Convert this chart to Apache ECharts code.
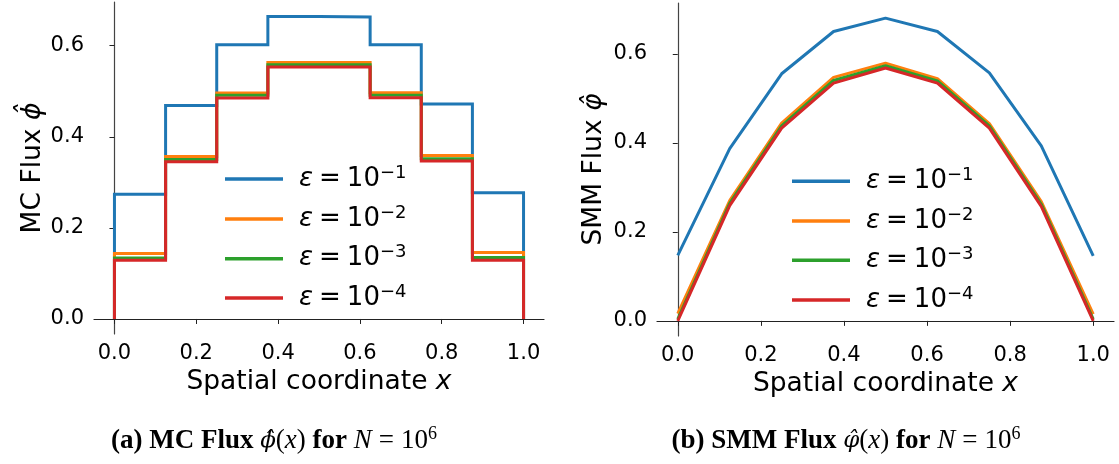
<!DOCTYPE html>
<html>
<head>
<meta charset="utf-8">
<script src="https://cdn.jsdelivr.net/npm/echarts@6/dist/echarts.min.js"></script>
<style>html,body{margin:0;padding:0;background:#fff}#c{width:1119px;height:464px}</style>
</head>
<body>
<div id="c"></div>
<script>
// ---- data ----
const binEdges = [0, 0.125, 0.25, 0.375, 0.5, 0.625, 0.75, 0.875, 1.0];
const mcEps1 = [0.274, 0.469, 0.602, 0.664, 0.663, 0.602, 0.472, 0.277];
const mcEps2 = [0.144, 0.357, 0.496, 0.563, 0.563, 0.497, 0.359, 0.146];
const mcEps3 = [0.134, 0.350, 0.491, 0.558, 0.558, 0.491, 0.352, 0.135];
const mcEps4 = [0.129, 0.345, 0.485, 0.553, 0.553, 0.486, 0.347, 0.129];

const smmX = [0, 0.125, 0.25, 0.375, 0.5, 0.625, 0.75, 0.875, 1.0];
const smmEps1 = [0.147, 0.387, 0.555, 0.650, 0.680, 0.650, 0.557, 0.393, 0.146];
const smmEps2 = [0.016, 0.270, 0.444, 0.547, 0.579, 0.544, 0.443, 0.268, 0.015];
const smmEps3 = [0.004, 0.264, 0.438, 0.540, 0.573, 0.539, 0.438, 0.262, 0.004];
const smmEps4 = [0.000, 0.259, 0.433, 0.534, 0.568, 0.534, 0.433, 0.257, 0.000];

const seriesNames = ['eps-1', 'eps-2', 'eps-3', 'eps-4'];
const legendExponents = ['−1', '−2', '−3', '−4'];
const xTicks = [0, 0.2, 0.4, 0.6, 0.8, 1.0];
const yTicks = [0, 0.2, 0.4, 0.6];
const colors = ['#1f77b4', '#ff7f0e', '#2ca02c', '#d62728'];

function stairs(edges, vals) {
  const pts = [[edges[0], 0]];
  for (let i = 0; i < vals.length; i++) {
    pts.push([edges[i], vals[i]]);
    pts.push([edges[i + 1], vals[i]]);
  }
  pts.push([edges[edges.length - 1], 0]);
  return pts;
}
function pairs(xs, ys) { return xs.map((x, i) => [x, ys[i]]); }

const mcSets = [mcEps1, mcEps2, mcEps3, mcEps4];
const smmSets = [smmEps1, smmEps2, smmEps3, smmEps4];

const FONT = 'DejaVu Sans';
const legendRich = {
  e: { fontFamily: FONT, fontStyle: 'italic', fontSize: 26, lineHeight: 30, color: '#000', padding: [0, 0, 0, 11] },
  q: { fontFamily: FONT, fontSize: 26, lineHeight: 30, color: '#000', padding: [0, 6, 0, 6] },
  n: { fontFamily: FONT, fontSize: 26, lineHeight: 30, color: '#000' },
  s: { fontFamily: FONT, fontSize: 18, lineHeight: 18, verticalAlign: 'top', color: '#000' }
};
function legendFmt(name) {
  const i = seriesNames.indexOf(name);
  return '{e|ε}{q|=}{n|10}{s|' + legendExponents[i] + '}';
}

const titleStyle = { fontFamily: FONT, fontSize: 26.5, color: '#000', rich: { i: { fontFamily: FONT, fontStyle: 'italic', fontSize: 26.5, color: '#000' } } };

function xAxisCfg(gi) {
  return {
    type: 'value', gridIndex: gi, min: -0.05, max: 1.05,
    splitLine: { show: false },
    axisLine: { lineStyle: { color: '#222', width: 1.2 } },
    axisTick: { customValues: xTicks, length: 5, lineStyle: { color: '#222' } },
    axisLabel: { customValues: xTicks, formatter: v => v.toFixed(1), fontFamily: FONT, fontSize: 21, color: '#000', margin: 9 },
    name: 'Spatial coordinate {i|x}', nameLocation: 'middle', nameGap: 35,
    nameTextStyle: titleStyle
  };
}
function yAxisCfg(gi, min, max, nameTxt, gap) {
  return {
    type: 'value', gridIndex: gi, min: min, max: max,
    splitLine: { show: false },
    axisLine: { show: true, lineStyle: { color: '#444', width: 1.2 } },
    axisTick: { show: true, customValues: yTicks, length: 5, lineStyle: { color: '#222' } },
    axisLabel: { customValues: yTicks, formatter: v => v.toFixed(1), fontFamily: FONT, fontSize: 21, color: '#000', margin: 10 },
    name: nameTxt, nameLocation: 'middle', nameGap: gap, nameRotate: 90,
    nameTextStyle: titleStyle
  };
}

const series = [];
seriesNames.forEach((nm, k) => {
  series.push({
    name: nm, type: 'line', xAxisIndex: 0, yAxisIndex: 0,
    data: stairs(binEdges, mcSets[k]), showSymbol: false, symbol: 'none',
    lineStyle: { color: colors[k], width: 3, join: 'miter' }, itemStyle: { color: colors[k] }
  });
});
seriesNames.forEach((nm, k) => {
  series.push({
    name: nm, type: 'line', xAxisIndex: 1, yAxisIndex: 1,
    data: pairs(smmX, smmSets[k]), showSymbol: false, symbol: 'none',
    lineStyle: { color: colors[k], width: 3 }, itemStyle: { color: colors[k] }
  });
});

// one legend row per entry so each row sits exactly where the reference has it
const legendRowsLeft = [176, 216, 255.7, 295];
const legendRowsRight = [178.3, 218, 257.3, 297];
const legends = [];
seriesNames.forEach((nm, k) => {
  [[225, legendRowsLeft[k]], [792, legendRowsRight[k]]].forEach(([lx, cy]) => {
    legends.push({
      left: lx, top: cy - 12, padding: 0, itemWidth: 58, itemHeight: 3.5, icon: 'rect',
      data: [nm], formatter: legendFmt, textStyle: { rich: legendRich }, selectedMode: false
    });
  });
});

const CF = 'Liberation Serif';
const CS = 27;
const capRich = {
  b: { fontFamily: CF, fontWeight: 'bold', fontSize: CS, lineHeight: 32, color: '#000' },
  m: { fontFamily: CF, fontStyle: 'italic', fontSize: CS, lineHeight: 32, color: '#000' },
  h: { fontFamily: 'DejaVu Serif', fontStyle: 'italic', fontSize: 23, lineHeight: 32, color: '#000' },
  n: { fontFamily: CF, fontSize: CS, lineHeight: 32, color: '#000' },
  q: { fontFamily: CF, fontSize: CS, lineHeight: 32, color: '#000', padding: [0, 7, 0, 7] },
  s: { fontFamily: CF, fontSize: 18, verticalAlign: 'top', lineHeight: 18, color: '#000' }
};

const chart = echarts.init(document.getElementById('c'), null, { renderer: 'canvas' });
chart.setOption({
  animation: false,
  backgroundColor: '#fff',
  grid: [
    { left: 94, top: 2, width: 450, height: 332 },
    { left: 657, top: 3, width: 457, height: 333 }
  ],
  xAxis: [xAxisCfg(0), xAxisCfg(1)],
  yAxis: [
    yAxisCfg(0, -0.033, 0.696, 'MC Flux {i|ϕ̂}', 47),
    yAxisCfg(1, -0.034, 0.714, 'SMM Flux {i|φ̂}', 49)
  ],
  legend: legends,
  graphic: [
    { type: 'text', x: 274, y: 441, style: { text: '{b|(a) MC Flux }{h|ϕ̂}{n|(}{m|x}{n|)}{b| for }{m|N}{q|=}{n|10}{s|6}', rich: capRich, align: 'center', verticalAlign: 'middle' } },
    { type: 'text', x: 846, y: 441, style: { text: '{b|(b) SMM Flux }{h|φ̂}{n|(}{m|x}{n|)}{b| for }{m|N}{q|=}{n|10}{s|6}', rich: capRich, align: 'center', verticalAlign: 'middle' } }
  ],
  series: series
});
</script>
</body>
</html>
